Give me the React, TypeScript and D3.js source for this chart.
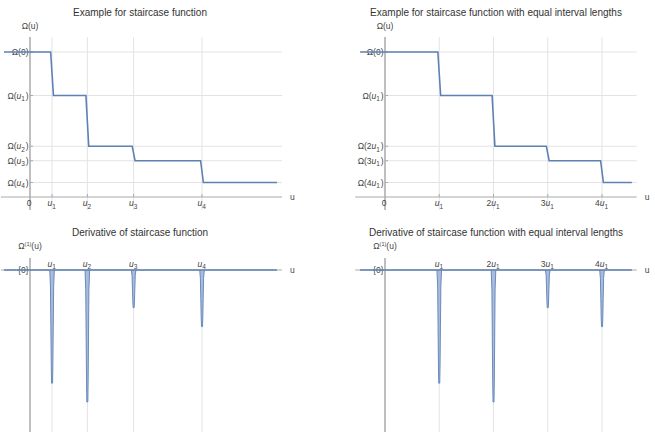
import React from "react";
import { scaleLinear, line } from "d3";

const W = 655;
const H = 432;

// staircase levels: Omega(0), Omega(u1) ... Omega(u4)
const omegaLevels = [1, 0.7, 0.35, 0.25, 0.1];
// jump positions, general case (u1..u4)
const jumpsGeneral = [1, 2.6, 4.7, 7.8];
// jump positions, equal intervals (multiples of u1)
const jumpsEqual = [1, 2, 3, 4];
// derivative spike values at the jumps
const spikeValues = [-0.3, -0.35, -0.1, -0.15];

// tick labels ("u" is drawn italic, "_k" is a subscript)
const xLabelsGeneral = ["u_1", "u_2", "u_3", "u_4"];
const xLabelsEqual = ["u_1", "2u_1", "3u_1", "4u_1"];
const yLabelsGeneral = ["Ω(0)", "Ω(u_1)", "Ω(u_2)", "Ω(u_3)", "Ω(u_4)"];
const yLabelsEqual = ["Ω(0)", "Ω(u_1)", "Ω(2u_1)", "Ω(3u_1)", "Ω(4u_1)"];

const FONT = "'Liberation Sans', Arial, sans-serif";
const BLUE = "#5E81B5";
const GRID = "#e3e3e3";
const AXIS = "#aaaaaa";
const TXT = "#444";

const mathText = (s: string) => {
  const parts: any[] = [];
  let buf = "";
  let k = 0;
  const flush = () => {
    if (buf) parts.push(<tspan key={k++}>{buf}</tspan>);
    buf = "";
  };
  for (let i = 0; i < s.length; i++) {
    const c = s[i];
    if (c === "u") {
      flush();
      parts.push(<tspan key={k++} fontStyle="italic">u</tspan>);
    } else if (c === "_") {
      flush();
      parts.push(
        <tspan key={k++} dy={2.5} fontSize={6.5}>{s[i + 1]}</tspan>
      );
      parts.push(<tspan key={k++} dy={-2.5}>{"\u200a"}</tspan>);
      i++;
    } else buf += c;
  }
  flush();
  return parts;
};

type PanelProps = {
  title: string;
  titleX: number;
  x0: number; // pixel of u = 0
  unit: number; // pixels per unit of u
  axisFrom: number;
  axisTo: number;
  lineFrom: number;
  lineTo: number;
  jumps: number[];
  xLabels: string[];
};

const StepPanel = (p: PanelProps & { yLabels: string[] }) => {
  const x = scaleLinear().domain([0, 1]).range([p.x0, p.x0 + p.unit]);
  const y = scaleLinear().domain([0, 1]).range([197, 52]);
  const pts: [number, number][] = [[x(p.lineFrom), y(omegaLevels[0])]];
  p.jumps.forEach((j, i) => {
    pts.push([x(j) - 1.4, y(omegaLevels[i])]);
    pts.push([x(j) + 1.4, y(omegaLevels[i + 1])]);
  });
  pts.push([x(p.lineTo), y(omegaLevels[omegaLevels.length - 1])]);
  const path = line()(pts) as string;
  const yTop = y(1.103);
  const yBot = y(-0.09);
  return (
    <g fontFamily={FONT}>
      <text x={p.titleX} y={16} textAnchor="middle" fontSize={10} fill="#333">
        {p.title}
      </text>
      <text x={x(0)} y={29} textAnchor="middle" fontSize={8.5} fill={TXT}>
        Ω(u)
      </text>
      {omegaLevels.map((v, i) => (
        <line key={"h" + i} x1={x(0)} x2={x(p.axisTo)} y1={y(v)} y2={y(v)} stroke={GRID} />
      ))}
      {p.jumps.map((j, i) => (
        <line key={"v" + i} x1={x(j)} x2={x(j)} y1={yTop} y2={yBot} stroke={GRID} />
      ))}
      <line x1={x(p.axisFrom)} x2={x(p.axisTo)} y1={y(0)} y2={y(0)} stroke={AXIS} />
      <line x1={x(0)} x2={x(0)} y1={yTop} y2={yBot} stroke={AXIS} strokeWidth={1.5} />
      {p.jumps.map((j, i) => (
        <line key={"t" + i} x1={x(j)} x2={x(j)} y1={y(0)} y2={y(0) - 3} stroke={AXIS} />
      ))}
      {omegaLevels.map((v, i) => (
        <line key={"yt" + i} x1={x(0)} x2={x(0) + 3} y1={y(v)} y2={y(v)} stroke={AXIS} />
      ))}
      {p.yLabels.map((l, i) => (
        <text key={"yl" + i} x={x(0) - 1.5} y={y(omegaLevels[i]) + 3} textAnchor="end" fontSize={8.5} fill={TXT}>
          {mathText(l)}
        </text>
      ))}
      <text x={x(0) - 1} y={206} textAnchor="middle" fontSize={8.5} fill={TXT}>0</text>
      {p.xLabels.map((l, i) => (
        <text key={"xl" + i} x={x(p.jumps[i])} y={206} textAnchor="middle" fontSize={8.5} fill={TXT}>
          {mathText(l)}
        </text>
      ))}
      <text x={x(p.axisTo) + 8} y={200} fontSize={8.5} fill={TXT}>u</text>
      <path d={path} fill="none" stroke={BLUE} strokeWidth={1.6} />
    </g>
  );
};

const DerivPanel = (p: PanelProps) => {
  const x = scaleLinear().domain([0, 1]).range([p.x0, p.x0 + p.unit]);
  const y = scaleLinear().domain([-0.35, 0]).range([402, 270]);
  const yTop = 258;
  const base = line()([
    [x(p.lineFrom), y(0)],
    [x(p.lineTo), y(0)],
  ]) as string;
  const spike = (j: number, v: number) => {
    const c = x(j);
    const d = y(v) - y(0);
    const y0 = y(0);
    return line()([
      [c - 2.3, y0],
      [c - 1.6, y0 + 0.15 * d],
      [c - 1.2, y0 + 0.5 * d],
      [c - 0.8, y0 + 0.85 * d],
      [c - 0.5, y0 + d],
      [c + 0.5, y0 + d],
      [c + 0.8, y0 + 0.85 * d],
      [c + 1.2, y0 + 0.5 * d],
      [c + 1.6, y0 + 0.15 * d],
      [c + 2.3, y0],
    ]) as string;
  };
  return (
    <g fontFamily={FONT}>
      <text x={p.titleX} y={236} textAnchor="middle" fontSize={10} fill="#333">
        {p.title}
      </text>
      <text x={x(0)} y={249} textAnchor="middle" fontSize={8.5} fill={TXT}>
        Ω<tspan dy={-3} fontSize={5.5}>(1)</tspan>
        <tspan dy={3}>(u)</tspan>
      </text>
      {p.jumps.map((j, i) => (
        <line key={"v" + i} x1={x(j)} x2={x(j)} y1={y(0)} y2={H} stroke={GRID} />
      ))}
      <line x1={x(p.axisFrom)} x2={x(p.axisTo)} y1={y(0)} y2={y(0)} stroke={AXIS} />
      <line x1={x(0)} x2={x(0)} y1={yTop} y2={H} stroke={AXIS} strokeWidth={1.5} />
      <text x={x(0) - 1.5} y={y(0) + 3} textAnchor="end" fontSize={8.5} fill={TXT}>{"{0}"}</text>
      {p.xLabels.map((l, i) => (
        <text key={"xl" + i} x={x(p.jumps[i])} y={266.5} textAnchor="middle" fontSize={8.5} fill={TXT}>
          {mathText(l)}
        </text>
      ))}
      <text x={x(p.axisTo) + 8} y={273} fontSize={8.5} fill={TXT}>u</text>
      {p.jumps.map((j, i) => (
        <path key={"s" + i} d={spike(j, spikeValues[i])} fill="#a9bcdc" stroke={BLUE} strokeWidth={0.9} />
      ))}
      <path d={base} fill="none" stroke={BLUE} strokeWidth={1.6} />
    </g>
  );
};

const general = {
  x0: 30,
  unit: 22.05,
  axisFrom: -1.32,
  axisTo: 11.43,
  lineFrom: -1.18,
  lineTo: 11.2,
  jumps: jumpsGeneral,
  xLabels: xLabelsGeneral,
  titleX: 140,
};

const equal = {
  x0: 385,
  unit: 54.25,
  axisFrom: -0.55,
  axisTo: 4.64,
  lineFrom: -0.46,
  lineTo: 4.55,
  jumps: jumpsEqual,
  xLabels: xLabelsEqual,
  titleX: 496,
};

export default function App() {
  return (
    <div style={{ position: "absolute", left: 0, top: 0 }}>
      <svg width={W} height={H} style={{ display: "block", background: "#fff" }}>
        <StepPanel {...general} title="Example for staircase function" yLabels={yLabelsGeneral} />
        <StepPanel
          {...equal}
          title="Example for staircase function with equal interval lengths"
          yLabels={yLabelsEqual}
        />
        <DerivPanel {...general} title="Derivative of staircase function" />
        <DerivPanel {...equal} title="Derivative of staircase function with equal interval lengths" />
      </svg>
    </div>
  );
}
